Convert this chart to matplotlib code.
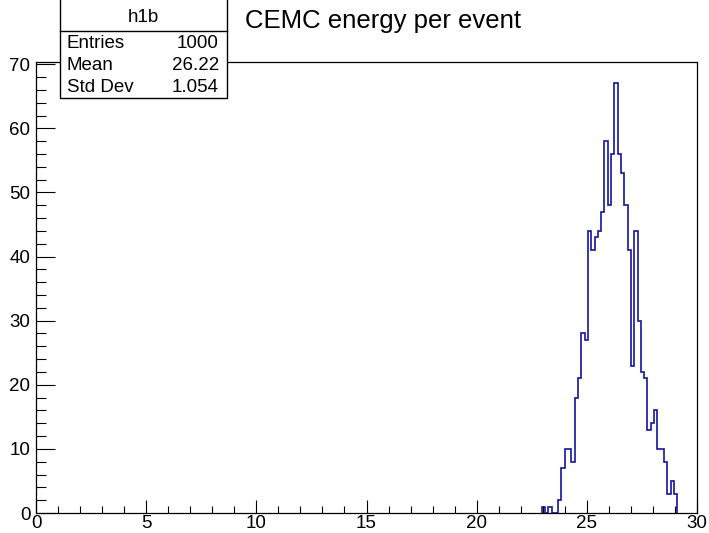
import numpy as np
import matplotlib
matplotlib.use('Agg')
import matplotlib.pyplot as plt
from matplotlib.ticker import MultipleLocator

# histogram h1b: 0.15 wide bins, only the filled part is listed
bin_lo = 22.95
bin_width = 0.15
counts = [1, 0, 1, 0, 0, 2, 7, 10, 10, 8,
          18, 21, 28, 27, 44, 41, 43, 44, 47, 58,
          48, 56, 67, 56, 53, 48, 41, 23, 44, 30,
          22, 21, 13, 14, 16, 10, 10, 8, 3, 5, 3]

stat_names = ['Entries', 'Mean', 'Std Dev']
stat_values = ['1000', '26.22', '1.054']
hist_name = 'h1b'
title = 'CEMC energy per event'

plt.rcParams['font.family'] = ['Liberation Sans', 'DejaVu Sans']

W, H = 709, 533
fig = plt.figure(figsize=(W / 100, H / 100), dpi=100)
ax = fig.add_axes([36 / W, (H - 513) / H, (697 - 36) / W, (513 - 62) / H])

edges = bin_lo + bin_width * np.arange(len(counts) + 1)
ax.stairs(counts, edges, color='#1414a0', lw=1.2)

ax.set_xlim(0, 30)
ax.set_ylim(0, 70.35)
ax.xaxis.set_major_locator(MultipleLocator(5))
ax.xaxis.set_minor_locator(MultipleLocator(1))
ax.yaxis.set_major_locator(MultipleLocator(10))
ax.yaxis.set_minor_locator(MultipleLocator(2))
ax.tick_params(axis='x', which='major', direction='in', length=9.5, width=0.8,
               labelsize=13.5, pad=1.5, top=False)
ax.tick_params(axis='x', which='minor', direction='in', length=4.8, width=0.8, top=False)
ax.tick_params(axis='y', which='major', direction='in', length=14, width=0.8,
               labelsize=13.5, pad=4, right=False)
ax.tick_params(axis='y', which='minor', direction='in', length=7, width=0.8, right=False)
for s in ax.spines.values():
    s.set_linewidth(0.9)

fig.text(245 / W, 1 - 21 / H, title, fontsize=18.5, ha='left', va='center')

# stats box, drawn in figure pixels
def fx(px):
    return px / W

def fy(py):
    return 1 - py / H

box = plt.Rectangle((fx(60), fy(98)), fx(227) - fx(60), fy(-2) - fy(98),
                    transform=fig.transFigure, facecolor='white',
                    edgecolor='black', lw=1.0, zorder=5)
fig.add_artist(box)
fig.add_artist(plt.Line2D([fx(60), fx(227)], [fy(31), fy(31)],
                          transform=fig.transFigure, color='black', lw=1.0, zorder=6))
fig.text(fx(143.5), fy(17), hist_name, fontsize=13.5, ha='center', va='center', zorder=7)
for i, (n, v) in enumerate(zip(stat_names, stat_values)):
    y = fy(43 + 22.5 * i)
    fig.text(fx(67), y, n, fontsize=13.5, ha='left', va='center', zorder=7)
    fig.text(fx(219), y, v, fontsize=13.5, ha='right', va='center', zorder=7)

fig.savefig('out.png', dpi=100)
